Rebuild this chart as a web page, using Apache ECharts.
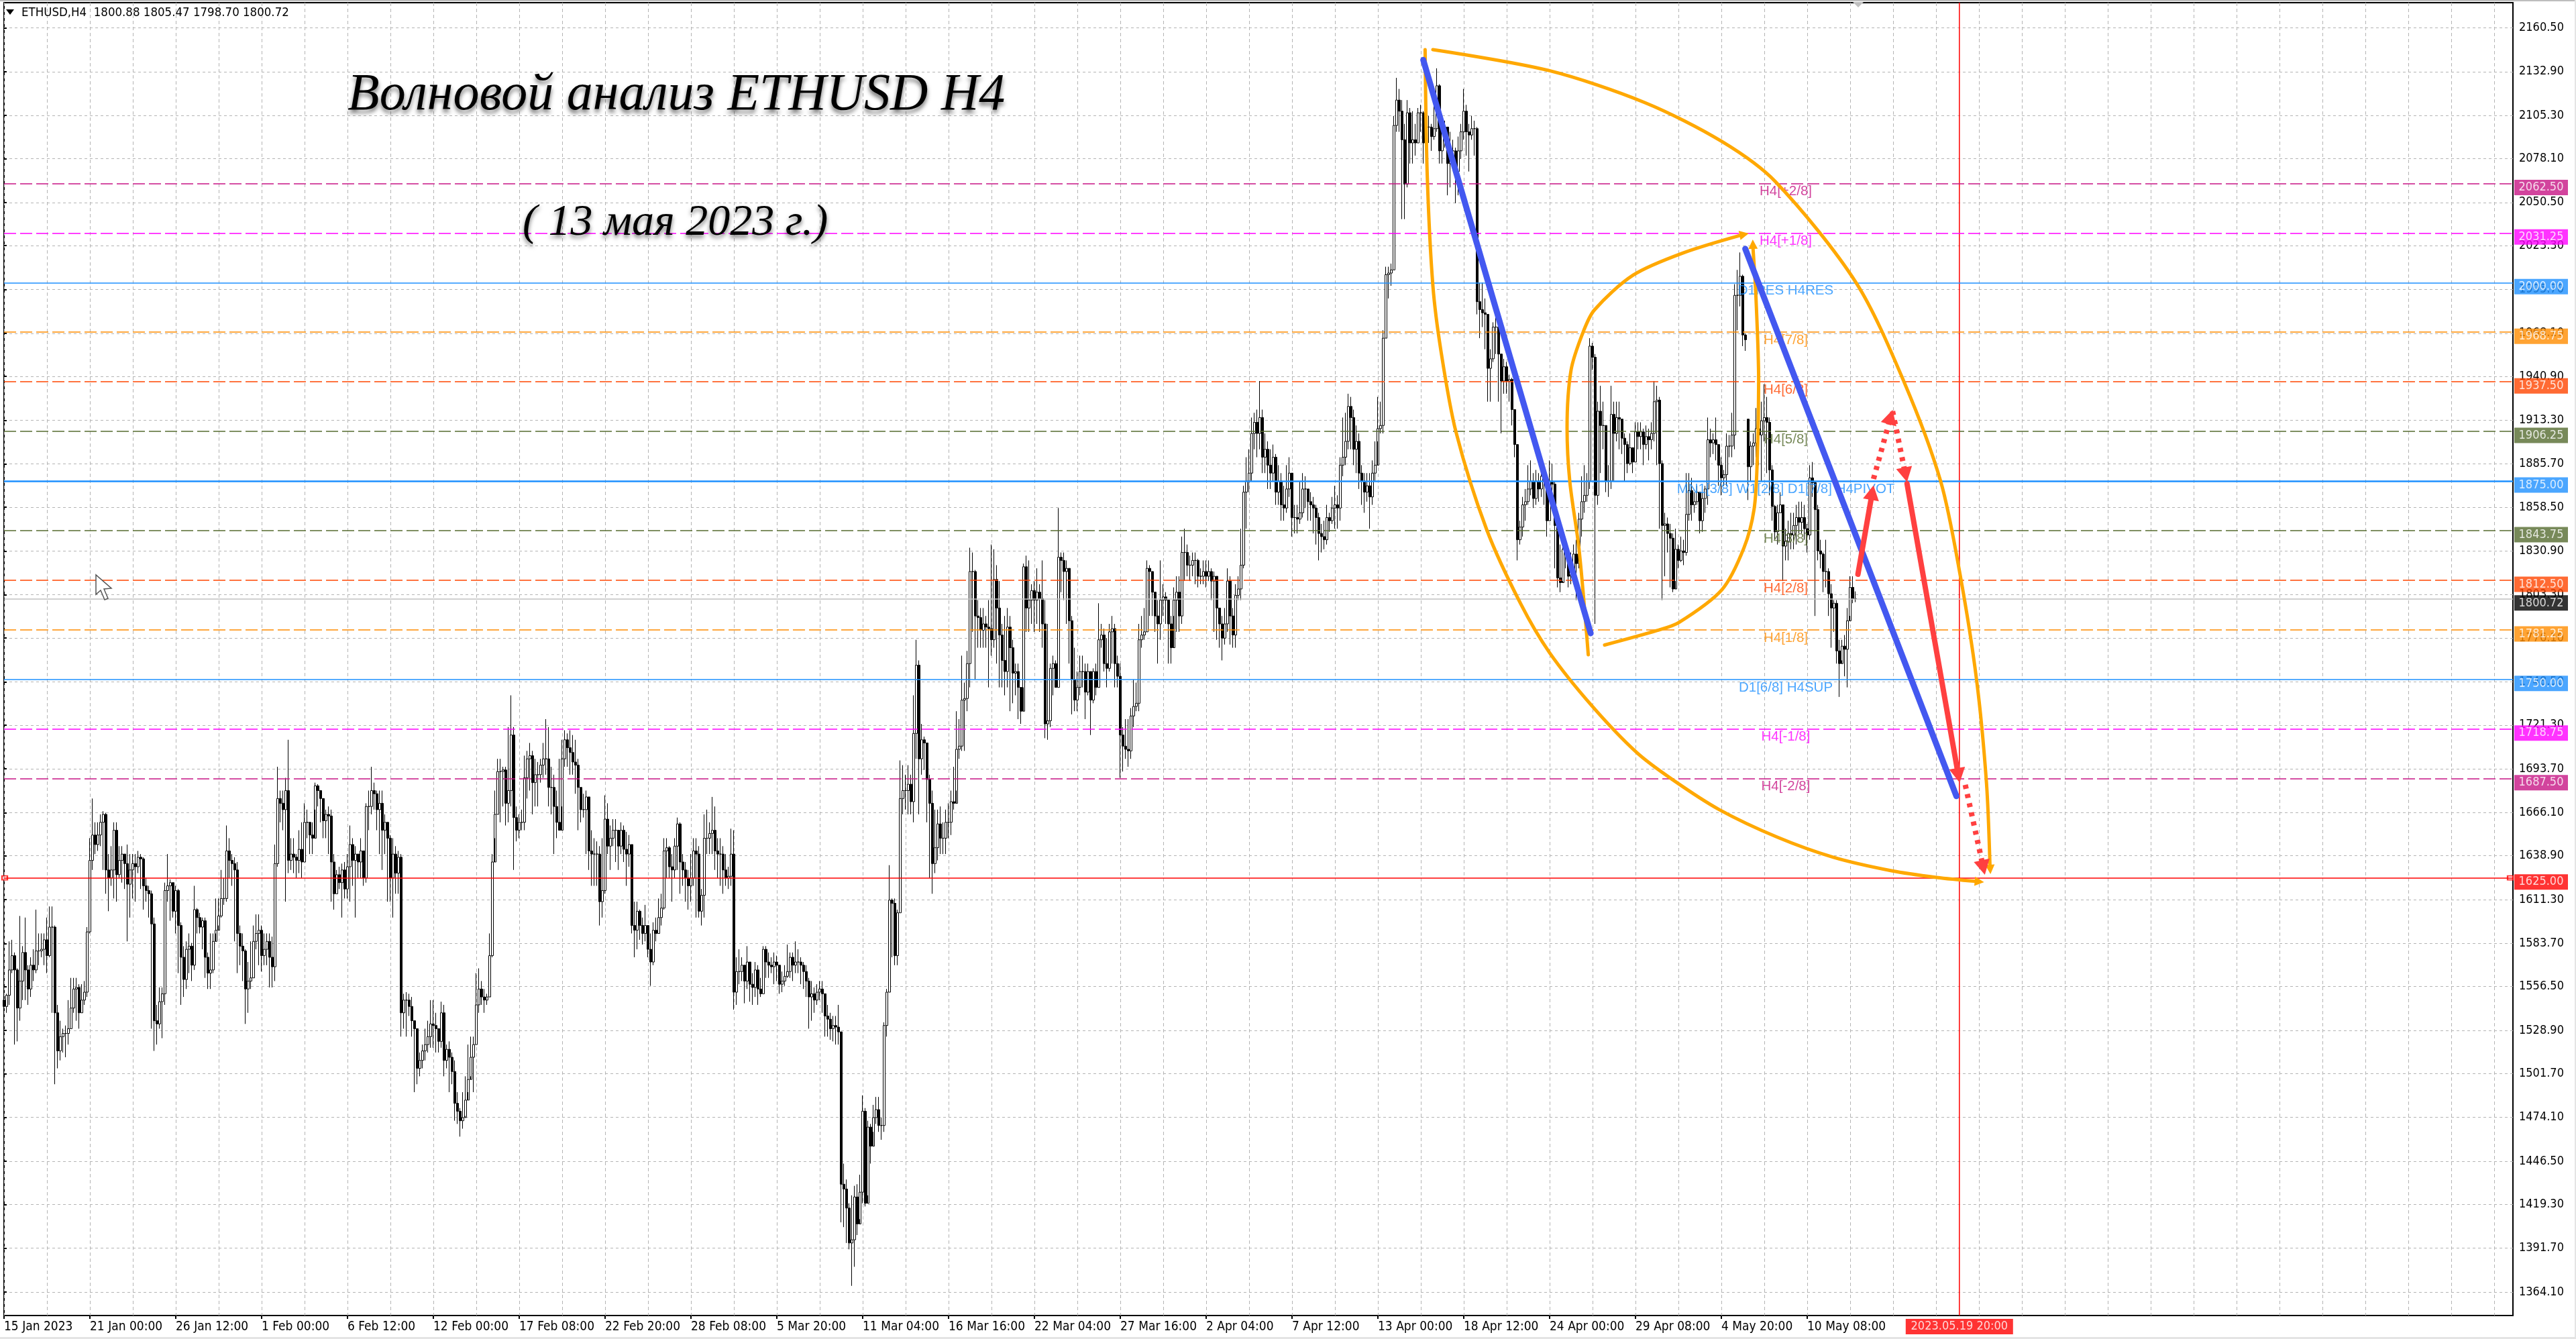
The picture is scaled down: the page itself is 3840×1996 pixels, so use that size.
<!DOCTYPE html>
<html><head><meta charset="utf-8"><style>html,body{margin:0;padding:0;background:#fff}#c{width:3840px;height:1996px}</style>
<script src="https://cdn.jsdelivr.net/npm/echarts@6/dist/echarts.min.js"></script></head><body><div id="c"></div>
<script>
// ---- values ----
const tickLabels=['15 Jan 2023','21 Jan 00:00','26 Jan 12:00','1 Feb 00:00','6 Feb 12:00','12 Feb 00:00','17 Feb 08:00','22 Feb 20:00','28 Feb 08:00','5 Mar 20:00','11 Mar 04:00','16 Mar 16:00','22 Mar 04:00','27 Mar 16:00','2 Apr 04:00','7 Apr 12:00','13 Apr 00:00','18 Apr 12:00','24 Apr 00:00','29 Apr 08:00','4 May 20:00','10 May 08:00'];
const priceTicks=[2160.5,2132.9,2105.3,2078.1,2050.5,2023.3,1995.7,1968.1,1940.9,1913.3,1885.7,1858.5,1830.9,1803.3,1776.1,1748.5,1721.3,1693.7,1666.1,1638.9,1611.3,1583.7,1556.5,1528.9,1501.7,1474.1,1446.5,1419.3,1391.7,1364.1];
const closes=[
1544,1551,1567,1576,1567,1543,1560,1578,1567,1555,
1570,1567,1579,1579,1580,1586,1576,1594,1594,1540,
1516,1525,1527,1527,1530,1543,1555,1556,1540,1548,
1553,1591,1636,1652,1646,1652,1660,1665,1630,1625,
1630,1655,1627,1636,1640,1634,1621,1630,1634,1632,
1638,1637,1620,1617,1615,1596,1535,1533,1547,1552,
1617,1620,1622,1604,1617,1595,1575,1561,1580,1582,
1570,1605,1600,1594,1598,1575,1565,1567,1585,1592,
1601,1612,1612,1642,1636,1634,1630,1590,1582,1579,
1555,1560,1562,1585,1590,1592,1576,1580,1585,1575,
1569,1634,1675,1672,1668,1680,1636,1640,1638,1636,
1643,1635,1660,1660,1652,1650,1683,1680,1675,1661,
1665,1664,1635,1615,1627,1622,1630,1618,1632,1646,
1636,1640,1635,1642,1625,1670,1670,1680,1678,1668,
1672,1655,1660,1650,1625,1640,1628,1638,1540,1548,
1548,1544,1535,1530,1505,1510,1516,1520,1525,1533,
1532,1530,1522,1540,1510,1517,1512,1503,1483,1478,
1472,1474,1485,1498,1512,1520,1545,1555,1550,1548,
1550,1576,1635,1665,1692,1692,1693,1672,1680,1715,
1663,1655,1660,1660,1688,1700,1702,1685,1690,1690,
1696,1700,1700,1682,1682,1670,1660,1655,1700,1712,
1707,1704,1698,1696,1682,1668,1668,1676,1642,1640,
1640,1640,1610,1617,1662,1645,1650,1655,1655,1645,
1655,1643,1640,1646,1595,1592,1604,1595,1590,1595,
1580,1572,1592,1590,1600,1606,1642,1644,1632,1630,
1645,1659,1635,1630,1625,1620,1625,1642,1640,1604,
1614,1650,1650,1653,1655,1642,1640,1640,1630,1625,
1626,1640,1553,1566,1566,1570,1560,1572,1558,1556,
1567,1555,1552,1580,1572,1570,1569,1572,1570,1558,
1560,1563,1566,1575,1570,1572,1572,1570,1566,1560,
1550,1552,1548,1553,1555,1552,1538,1536,1530,1532,
1531,1528,
1432,1429,1417,1395,1397,1424,1407,1427,
1478,1420,1468,1456,1474,1479,1469,1469,1532,1553,
1611,1609,1576,1603,1675,1680,1680,1684,1673,1716,
1759,1700,1712,1710,1687,1672,1634,1644,1659,1650,
1650,1660,1660,1673,1672,1706,1708,1737,1738,1760,
1818,1818,1790,1789,1781,1785,1783,1782,1775,1813,
1795,1778,1762,1755,1783,1770,1754,1755,1745,1730,
1821,1795,1800,1806,1800,1805,1801,1785,1722,1724,
1757,1760,1745,1827,1825,1818,1820,1787,1750,1737,
1745,1755,1755,1742,1755,1737,1755,1745,1775,1778,
1760,1757,1780,1782,1760,1752,1715,1708,1706,1705,
1727,1733,1735,1775,1778,1780,1820,1818,1805,1790,
1785,1800,1802,1800,1785,1770,1800,1805,1790,1830,
1830,1822,1822,1825,1825,1815,1815,1818,1815,1818,
1812,1815,1795,1785,1776,1785,1812,1790,1778,1803,
1807,1822,1868,1875,1880,1905,1912,1905,1915,1890,
1895,1885,1880,1890,1868,1875,1860,1858,1870,1880,
1852,1852,1851,1855,1870,1870,1862,1860,1858,1852,
1842,1840,1838,1852,1850,1858,1860,1858,1885,1890,
1900,1922,1915,1895,1900,1880,1875,1868,1872,1865,1880,1885,
1908,1910,1965,2005,2006,2008,2099,2115,2108,2090,
2062,2107,2088,2090,2088,2107,2107,2088,2098,2098,
2092,2097,2124,2083,2097,2098,2075,2083,2083,2070,
2083,2095,2108,2095,2093,2097,2097,1988,1983,1981,
1980,1946,1952,1972,1972,1955,1938,1947,1938,1939,
1920,1898,1838,1846,1860,1862,1870,1875,1864,1875,
1870,1878,1875,1850,1875,1873,1847,1814,1811,1832,
1829,1815,1816,1829,1823,1851,1862,1866,1875,1960,
1953,1866,1919,1910,1910,1875,1875,1917,1905,1915,
1914,1902,1898,1886,1896,1887,1906,1903,1906,1898,
1903,1901,1905,1925,1926,1886,1847,1848,1842,1839,1807,1832,
1825,1831,1830,1854,1869,1860,1862,1868,1850,1864,
1870,1901,1899,1901,1898,1885,1877,1879,1897,1897,
1904,1992,1992,2004,1967,1964,
1884,1897,1899,1908,1904,1913,1915,1912,1882,1859,
1843,1855,1860,1834,1837,1842,1841,1847,1852,1849,
1852,1845,1841,1877,1874,1857,1831,1829,1818,1818,1804,
1795,1798,1768,1760,1771,1769,1787,1808,1801,1800.72];
const highs=[
1566,1552,1585,1586,1578,1568,1601,1582,1600,1570,
1575,1580,1605,1590,1590,1590,1600,1607,1607,1595,
1545,1535,1530,1532,1548,1562,1562,1562,1558,1558,
1560,1594,1650,1675,1660,1660,1665,1667,1666,1640,
1645,1660,1660,1645,1645,1640,1646,1640,1640,1640,
1642,1640,1638,1625,1620,1617,1600,1545,1556,1556,
1622,1640,1624,1622,1620,1618,1597,1582,1585,1590,
1584,1620,1606,1603,1600,1600,1578,1590,1590,1612,
1612,1630,1625,1658,1650,1640,1638,1635,1595,1590,
1580,1572,1585,1595,1602,1602,1595,1590,1590,1590,
1588,1646,1695,1680,1680,1688,1712,1650,1650,1640,
1655,1660,1672,1668,1658,1660,1685,1684,1680,1667,
1668,1670,1668,1640,1630,1632,1634,1635,1640,1658,
1650,1645,1640,1650,1640,1672,1680,1695,1685,1680,
1680,1680,1665,1655,1652,1650,1645,1642,1640,1552,
1553,1552,1550,1535,1530,1515,1520,1530,1535,1548,
1548,1540,1530,1547,1545,1520,1522,1515,1510,1490,
1480,1490,1500,1520,1525,1525,1565,1568,1560,1555,
1552,1590,1640,1680,1700,1700,1695,1695,1720,1740,
1720,1670,1665,1668,1702,1705,1710,1705,1700,1698,
1700,1710,1725,1720,1695,1690,1680,1700,1712,1718,
1716,1718,1715,1712,1700,1680,1678,1680,1676,1655,
1650,1648,1645,1650,1677,1672,1658,1662,1662,1650,
1660,1658,1654,1652,1646,1610,1610,1605,1600,1608,
1592,1590,1597,1600,1612,1615,1650,1650,1645,1640,
1650,1663,1660,1640,1635,1630,1640,1650,1650,1645,
1618,1665,1668,1660,1676,1670,1650,1650,1645,1640,
1632,1656,1655,1575,1580,1575,1570,1582,1568,1565,
1572,1570,1562,1582,1582,1578,1575,1578,1576,1570,
1566,1570,1583,1578,1578,1585,1580,1575,1572,1570,
1562,1560,1556,1558,1560,1560,1552,1545,1540,1538,
1538,1545,
1528,1445,1435,1420,1425,1431,1432,1438,
1488,1480,1472,1470,1482,1487,1487,1474,1534,1555,
1633,1612,1612,1605,1699,1696,1690,1696,1690,1740,
1775,1762,1722,1714,1705,1690,1680,1668,1668,1670,
1660,1668,1672,1680,1695,1730,1725,1765,1748,1768,
1833,1830,1819,1800,1795,1795,1790,1800,1835,1832,
1822,1812,1785,1790,1795,1790,1775,1760,1760,1745,
1823,1828,1825,1810,1812,1820,1810,1825,1800,1785,
1760,1765,1762,1858,1830,1830,1825,1820,1790,1770,
1755,1765,1765,1760,1760,1755,1757,1760,1798,1785,
1782,1776,1785,1790,1785,1765,1760,1720,1725,1725,
1732,1750,1748,1785,1790,1795,1825,1822,1815,1800,
1800,1825,1810,1805,1800,1790,1808,1815,1815,1840,
1845,1835,1828,1830,1830,1826,1820,1825,1825,1825,
1820,1818,1812,1795,1790,1795,1820,1815,1795,1810,
1815,1845,1872,1890,1895,1915,1918,1920,1938,1920,
1905,1900,1895,1898,1892,1885,1880,1872,1885,1890,
1868,1860,1860,1875,1880,1878,1870,1868,1865,1860,
1855,1848,1850,1860,1855,1865,1872,1866,1890,1915,
1918,1930,1928,1920,1910,1905,1885,1880,1880,1880,1888,1900,
1928,1925,1970,2010,2010,2012,2105,2129,2122,2115,
2100,2115,2110,2108,2100,2110,2112,2108,2110,2105,
2100,2118,2135,2125,2100,2102,2098,2095,2090,2085,
2092,2100,2122,2112,2100,2105,2102,2098,2000,2000,
1990,1980,1958,1975,1978,1975,1955,1952,1950,1942,
1940,1920,1898,1850,1865,1870,1885,1888,1880,1882,
1880,1886,1885,1878,1888,1886,1875,1848,1835,1840,
1838,1830,1830,1835,1838,1855,1878,1885,1880,1965,
1962,1955,1925,1935,1925,1910,1885,1935,1925,1925,
1925,1912,1905,1900,1905,1895,1912,1912,1912,1908,
1910,1908,1912,1938,1935,1928,1888,1855,1852,1848,1842,1845,
1835,1840,1838,1880,1880,1877,1868,1872,1868,1868,
1872,1915,1908,1905,1915,1898,1890,1882,1905,1904,
1918,1999,2008,2019,2005,1968,
1914,1900,1905,1921,1912,1925,1936,1928,1915,1885,
1860,1860,1868,1860,1845,1850,1855,1855,1860,1862,
1862,1860,1848,1885,1887,1875,1860,1838,1830,1838,1820,
1810,1800,1800,1775,1775,1778,1795,1815,1815,1805.47];
const lows=[
1531,1540,1545,1565,1520,1522,1535,1548,1548,1545,
1550,1560,1565,1570,1575,1570,1565,1575,1540,1495,
1505,1510,1515,1512,1520,1530,1540,1535,1530,1540,
1545,1550,1590,1630,1640,1642,1645,1630,1615,1604,
1620,1612,1610,1625,1622,1618,1585,1600,1612,1610,
1628,1618,1605,1610,1600,1530,1516,1520,1530,1524,
1545,1610,1598,1600,1590,1565,1545,1550,1555,1565,
1560,1567,1590,1590,1580,1562,1555,1555,1565,1590,
1595,1600,1608,1610,1625,1620,1585,1565,1570,1560,
1533,1540,1555,1562,1580,1570,1566,1570,1570,1556,
1556,1560,1632,1660,1655,1610,1628,1630,1628,1625,
1628,1625,1635,1650,1640,1640,1668,1670,1660,1650,
1650,1640,1610,1605,1615,1618,1600,1612,1612,1610,
1620,1600,1625,1625,1620,1622,1655,1665,1668,1655,
1640,1630,1640,1610,1610,1600,1615,1615,1525,1530,
1525,1538,1525,1490,1495,1500,1505,1510,1515,1518,
1518,1515,1515,1518,1500,1505,1490,1495,1472,1470,
1462,1467,1475,1490,1500,1490,1520,1540,1545,1540,
1545,1550,1575,1650,1665,1660,1670,1658,1660,1670,
1630,1648,1650,1655,1655,1675,1680,1665,1670,1670,
1685,1688,1690,1670,1665,1640,1650,1655,1670,1695,
1695,1690,1690,1678,1655,1660,1663,1640,1630,1620,
1620,1620,1595,1600,1615,1640,1630,1645,1635,1630,
1640,1635,1620,1632,1590,1575,1580,1586,1583,1585,
1575,1557,1570,1585,1590,1595,1605,1625,1625,1610,
1625,1630,1615,1620,1610,1605,1610,1620,1600,1600,
1595,1600,1640,1640,1640,1630,1625,1620,1615,1620,
1618,1620,1542,1545,1558,1560,1546,1555,1547,1545,
1550,1545,1550,1552,1562,1562,1565,1558,1560,1552,
1553,1557,1562,1562,1560,1565,1565,1558,1555,1550,
1530,1535,1540,1545,1548,1540,1525,1525,1523,1522,
1520,1520,
1408,1405,1395,1391,1368,1380,1400,1410,
1420,1418,1425,1445,1465,1470,1465,1460,1465,1525,
1553,1575,1570,1570,1603,1665,1668,1665,1665,1660,
1700,1665,1690,1693,1660,1625,1615,1628,1636,1640,
1640,1640,1650,1652,1668,1680,1700,1705,1705,1730,
1745,1780,1750,1770,1770,1770,1770,1745,1765,1770,
1760,1745,1745,1740,1745,1730,1735,1740,1725,1722,
1745,1780,1780,1785,1780,1785,1780,1770,1713,1712,
1720,1740,1745,1745,1805,1800,1785,1760,1728,1730,
1730,1740,1745,1725,1740,1715,1735,1740,1745,1770,
1755,1745,1755,1760,1745,1745,1688,1692,1700,1695,
1700,1720,1730,1730,1770,1775,1780,1790,1790,1780,
1760,1775,1790,1785,1760,1760,1790,1780,1780,1785,
1812,1815,1812,1815,1810,1808,1810,1810,1808,1812,
1800,1780,1775,1770,1762,1772,1780,1772,1770,1770,
1800,1800,1820,1845,1868,1875,1895,1890,1895,1880,
1880,1870,1870,1875,1860,1860,1850,1850,1855,1865,
1840,1842,1842,1848,1852,1858,1850,1850,1842,1835,
1825,1830,1832,1835,1843,1848,1845,1845,1850,1878,
1885,1895,1895,1885,1880,1870,1860,1855,1862,1845,1860,1875,
1900,1905,1905,1965,1990,1998,2008,2095,2095,2040,
2040,2060,2075,2075,2080,2088,2095,2075,2085,2088,
2083,2090,2095,2075,2075,2085,2055,2060,2075,2050,
2055,2078,2090,2080,2070,2090,2080,1980,1965,1972,
1958,1925,1925,1950,1955,1925,1905,1930,1930,1925,
1910,1890,1825,1835,1840,1850,1860,1866,1858,1860,
1862,1865,1860,1840,1850,1860,1820,1808,1805,1812,
1820,1808,1810,1810,1800,1820,1840,1855,1862,1870,
1945,1785,1860,1880,1895,1868,1865,1870,1875,1900,
1895,1892,1875,1880,1885,1880,1887,1895,1895,1885,
1895,1888,1895,1900,1885,1845,1800,1815,1830,1808,1805,1812,
1820,1824,1822,1828,1850,1850,1855,1860,1842,1843,
1855,1860,1890,1892,1888,1872,1866,1872,1872,1890,
1890,1895,1970,1985,1960,1957,
1863,1875,1885,1890,1885,1875,1900,1880,1866,1850,
1838,1835,1855,1812,1825,1825,1832,1832,1835,1842,
1842,1838,1830,1838,1865,1790,1825,1820,1805,1808,1790,
1770,1780,1760,1739,1762,1752,1745,1790,1798,1798.7];
const firstOpen=1548;
const gapOpens={650:1914};
const levelPrices=[2062.5,2031.25,2000,1968.75,1937.5,1906.25,1875,1843.75,1812.5,1781.25,1750,1718.75,1687.5,1625];
const levelTexts=['H4[+2/8]','H4[+1/8]','D1RES H4RES','H4[7/8]','H4[6/8]','H4[5/8]','MN1[3/8] W1[2/8] D1[7/8] H4PIVOT','H4[3/8]','H4[2/8]','H4[1/8]','D1[6/8] H4SUP','H4[-1/8]','H4[-2/8]',''];
const lastPrice=1800.72;
const forecastBar=728.7, forecastLabel='2023.05.19 20:00', textBar=664;
// drawings, in [bar, price]
const arcLeft=[[529.6,2146.8],[530.4,2067.3],[532.5,1998],[535.5,1957],[541.1,1905.9],[552.5,1844.6],[565.2,1797.7],[576,1766.8],[591.7,1733.5],[608.5,1703.9],[621.7,1687],[639.2,1668],[660.9,1650.6],[681.7,1638],[703.4,1629.5],[720.2,1625.3],[735,1622.8]];
const arcRight=[[532.5,2146.8],[575.5,2133.7],[611.5,2113.4],[640.2,2088.9],[660.2,2063.5],[690.2,2000],[708.1,1937.4],[721.7,1875],[728.9,1816.7],[735.1,1749.9],[738.8,1684.9],[740.1,1632.9]];
const arcInnerLeft=[[590.4,1765.6],[587,1831.5],[583.5,1875],[582.5,1908.4],[584,1945],[588.5,1968.9],[592.7,1982.8],[607.2,2004.8],[625.7,2018.7],[647.7,2030.1]];
const arcInnerRight=[[596.5,1771.7],[616,1780.8],[624.2,1785.9],[640.2,1806.5],[648.4,1832.8],[652.2,1857.3],[653.4,1889.4],[653.9,1938],[652.9,1990.6],[651.8,2021.6]];
const orangeTips=[[737.9,1622.3],[740.3,1627.4],[650.2,2031],[651.7,2027.2]];
const blueFirst=[[528.9,2140.3],[591.3,1779.1]];
const blueSecond=[[648.9,2021.3],[727.6,1676.5]];
const redSolid=[[690.9,1816.3,696.7,1872.3],[709.2,1873.3,728.8,1685]];
const redDotted=[[696.7,1876.3,703.8,1919.8],[703.8,1919,709.2,1874.4],[730.9,1683.6,738.2,1627]];

// ---- styling, kept apart from the values ----
const levelColors=['#C71585','#FF00FF','#1E90FF','#FF8C00','#FF4500','#556B2F','#1E90FF','#556B2F','#FF4500','#FF8C00','#1E90FF','#FF00FF','#C71585','#FF0000'];
const solidLevel=new Set([2000,1875,1750,1625]);
const FONT='"DejaVu Sans Condensed","DejaVu Sans",sans-serif';
const BARS=936, XMAX=BARS-1, YMAX=2176.35, YMIN=1349.3;
const categories=Array.from({length:BARS},(_,i)=>i%32===0&&tickLabels[i/32]?tickLabels[i/32]:'');
const labelled=i=>i%32===0&&i/32<tickLabels.length;
const opens=closes.map((c,i)=>gapOpens[i]!==undefined?gapOpens[i]:(i?closes[i-1]:firstOpen));
const ohlc=closes.map((c,i)=>[opens[i],c,lows[i],highs[i]]);

function line(data,color,width,z){return {type:'line',xAxisIndex:1,yAxisIndex:0,data,smooth:0.3,symbol:'none',z:z||6,silent:true,clip:false,
  lineStyle:{color,width,cap:'round',join:'round'}};}
const tag=(price,color,text)=>({value:[XMAX,price],label:{backgroundColor:color,formatter:text}});
const tagData=levelPrices.map((p,i)=>tag(p,levelColors[i],p.toFixed(2))).concat([tag(lastPrice,'#000',lastPrice.toFixed(2))]);

function head(a,b,L,W,fill){
  const len=Math.hypot(b[0]-a[0],b[1]-a[1])||1, ux=(b[0]-a[0])/len, uy=(b[1]-a[1])/len;
  const nx=b[0]-ux*L, ny=b[1]-uy*L;
  return {type:'polygon',shape:{points:[b,[nx-uy*W,ny+ux*W],[nx+uy*W,ny-ux*W]]},style:{fill}};
}
const orangeEnds=[arcLeft,arcRight,arcInnerLeft,arcInnerRight].map((p,i)=>p[p.length-1].concat(orangeTips[i]));
const redItems=redSolid.map(r=>r.concat([0])).concat(redDotted.map(r=>r.concat([1])));

const option={animation:false,backgroundColor:'#fff',
 grid:{left:6,right:94,top:4,bottom:35,show:true,borderColor:'#000',borderWidth:2,backgroundColor:'#fff'},
 xAxis:[{type:'category',data:categories,boundaryGap:false,axisLine:{show:false},
   axisTick:{interval:(i)=>labelled(i),length:5,lineStyle:{color:'#000',width:2}},
   axisLabel:{interval:(i)=>labelled(i),align:'left',color:'#000',fontFamily:FONT,fontSize:19,margin:8,hideOverlap:false},
   splitLine:{show:true,interval:(i)=>i%16===0,lineStyle:{color:'#b4b4b4',type:[5,4],width:1}}},
  {type:'value',min:0,max:XMAX,show:false}],
 yAxis:{type:'value',position:'right',min:YMIN,max:YMAX,scale:true,axisLine:{show:false},
   axisTick:{show:true,customValues:priceTicks,length:4,lineStyle:{color:'#000',width:2}},
   axisLabel:{customValues:priceTicks,color:'#000',fontFamily:FONT,fontSize:18,margin:9,align:'left',formatter:v=>v.toFixed(2)},
   splitLine:{show:true,lineStyle:{color:'#b4b4b4',type:[4,4],width:1}}},
 series:[
  {type:'candlestick',data:ohlc,barWidth:3,large:false,progressive:0,silent:true,z:2,clip:false,
   itemStyle:{color:'#fff',color0:'#000',borderColor:'#000',borderColor0:'#000',borderWidth:1}},
  {type:'line',data:[],z:3,silent:true,markLine:{silent:true,symbol:'none',animation:false,label:{show:false},
    data:levelPrices.map((p,i)=>({yAxis:p,lineStyle:{color:levelColors[i],width:p===1875?2.5:1.5,type:solidLevel.has(p)?'solid':[18,6]}}))
      .concat([{yAxis:lastPrice,lineStyle:{color:'#c0c0c0',width:1.5,type:'solid'}}])}},
  {type:'line',xAxisIndex:1,data:[[forecastBar,YMIN],[forecastBar,YMAX]],symbol:'none',z:3,silent:true,lineStyle:{color:'#FF0000',width:1.5}},
  {type:'scatter',xAxisIndex:1,data:[[0.25,1625],[934,1625]],symbol:'emptyRect',symbolSize:[8,6],z:4,silent:true,itemStyle:{color:'#FF0000',borderColor:'#FF0000'}},
  // level texts in the plot
  {type:'scatter',xAxisIndex:1,symbolSize:0,z:5,silent:true,clip:false,
   data:levelPrices.map((p,i)=>({value:[textBar,p],label:{color:levelColors[i],formatter:levelTexts[i]}})),
   label:{show:true,position:'inside',offset:[0,12],fontFamily:'"Liberation Sans",Arial,sans-serif',fontSize:20.5,align:'center',verticalAlign:'middle'}},
  // price tags at the right
  {type:'scatter',xAxisIndex:1,symbolSize:0,z:8,silent:true,clip:false,data:tagData,
   label:{show:true,position:'right',distance:0,offset:[42,6],width:80,height:23,lineHeight:23,align:'center',verticalAlign:'middle',color:'#fff',fontFamily:FONT,fontSize:18}},
  // forecast date tag
  {type:'scatter',xAxisIndex:1,symbolSize:0,z:8,silent:true,clip:false,data:[[forecastBar,YMIN]],
   label:{show:true,position:'bottom',distance:5,width:160,height:23,lineHeight:23,align:'center',verticalAlign:'top',color:'#fff',backgroundColor:'#FF0000',fontFamily:FONT,fontSize:18,formatter:forecastLabel}},
  line(arcLeft,'#FFA800',5),line(arcRight,'#FFA800',5),line(arcInnerLeft,'#FFA800',5),line(arcInnerRight,'#FFA800',5),
  line(blueFirst,'#4358F0',9,6),line(blueSecond,'#4358F0',9,6),
  {type:'custom',xAxisIndex:1,yAxisIndex:0,z:7,silent:true,clip:false,data:orangeEnds,
   renderItem:(p,api)=>{const a=api.coord([api.value(0),api.value(1)]),b=api.coord([api.value(2),api.value(3)]);return head(a,b,14,7,'#FFA800');}},
  {type:'custom',xAxisIndex:1,yAxisIndex:0,z:7,silent:true,clip:false,data:redItems,
   renderItem:(p,api)=>{const a=api.coord([api.value(0),api.value(1)]),b=api.coord([api.value(2),api.value(3)]),dotted=api.value(4)===1;
     const len=Math.hypot(b[0]-a[0],b[1]-a[1]),k=(len-18)/len,n=[a[0]+(b[0]-a[0])*k,a[1]+(b[1]-a[1])*k];
     return {type:'group',children:[
       {type:'line',shape:{x1:a[0],y1:a[1],x2:n[0],y2:n[1]},style:{stroke:'#FF4040',lineWidth:8,lineCap:dotted?'butt':'round',lineDash:dotted?[6,8]:null}},
       head(a,b,22,12,'#FF4040')]};}}
 ],
 graphic:[
  {type:'rect',shape:{x:0,y:0,width:3840,height:2},style:{fill:'#bdbdbd'},z:20},
  {type:'rect',shape:{x:0,y:1993,width:3840,height:3},style:{fill:'#e4e4e4'},z:20},
  {type:'rect',shape:{x:3838,y:0,width:2,height:1996},style:{fill:'#e4e4e4'},z:20},
  {type:'polygon',shape:{points:[[9,14],[21,14],[15,22]]},style:{fill:'#000'},z:20},
  {type:'polygon',shape:{points:[[2762,3],[2778,3],[2770,11]]},style:{fill:'#c0c0c0'},z:20},
  {type:'polygon',shape:{points:[[143,857],[143,886],[150,880],[156,894],[161,892],[155,878],[166,877]]},style:{fill:'#fff',stroke:'#555',lineWidth:1.5},z:20},
  {type:'text',x:32,y:19,z:20,style:{text:'ETHUSD,H4  1800.88 1805.47 1798.70 1800.72',font:'18.5px '+FONT,fill:'#000',textVerticalAlign:'middle'}},
  {type:'text',x:518,y:142,z:20,style:{text:'Волновой анализ ETHUSD H4',font:'italic 78px "Liberation Serif",serif',fill:'#000',textVerticalAlign:'middle',shadowBlur:6,shadowColor:'rgba(0,0,0,0.55)',shadowOffsetY:5,textShadowBlur:6,textShadowColor:'rgba(0,0,0,0.55)',textShadowOffsetY:5}},
  {type:'text',x:779,y:333,z:20,style:{text:'( 13 мая 2023 г.)',font:'italic 66px "Liberation Serif",serif',fill:'#000',textVerticalAlign:'middle',shadowBlur:6,shadowColor:'rgba(0,0,0,0.55)',shadowOffsetY:4,textShadowBlur:6,textShadowColor:'rgba(0,0,0,0.55)',textShadowOffsetY:4}}
 ]
};
const chart=echarts.init(document.getElementById('c'),null,{renderer:'canvas',width:3840,height:1996});
chart.setOption(option);
</script></body></html>
